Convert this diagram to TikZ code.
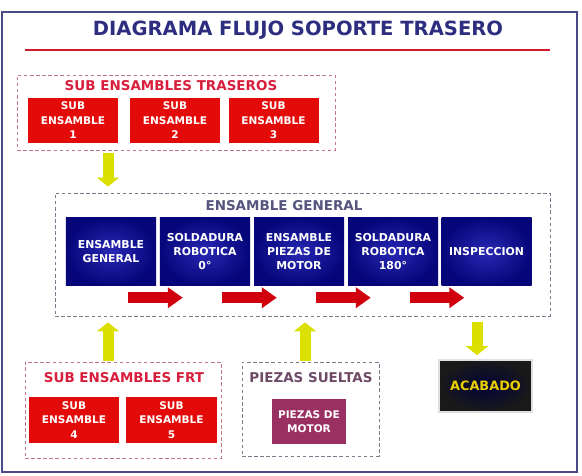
\documentclass[tikz,border=0pt]{standalone}
\usepackage{fontspec}
\setmainfont{DejaVu Sans}
\usetikzlibrary{arrows.meta,positioning,calc}
\definecolor{Frame}{HTML}{4A4A86}
\definecolor{TitleInk}{HTML}{2E2E80}
\definecolor{Rule}{HTML}{D41A2E}
\definecolor{SubRed}{HTML}{E30A0A}
\definecolor{LabelRed}{HTML}{D81E3C}
\definecolor{NavyIn}{HTML}{2828B4}
\definecolor{NavyOut}{HTML}{06067A}
\definecolor{GenInk}{HTML}{555580}
\definecolor{PartInk}{HTML}{6E4A66}
\definecolor{Motor}{HTML}{9A2F62}
\definecolor{Gold}{HTML}{EAD000}
\definecolor{ArrowRed}{HTML}{D0000E}
\definecolor{ArrowYel}{HTML}{DCE000}
\definecolor{DashRed}{HTML}{C07888}
\definecolor{DashGray}{HTML}{7A7A8C}
\tikzset{
  subbox/.style={fill=SubRed,minimum width=2.7cm,minimum height=1.35cm,inner sep=1pt,align=center,font=\fontsize{9}{12.4}\selectfont\bfseries,text=white},
  stagebox/.style={shade,inner color=NavyIn,outer color=NavyOut,minimum width=2.7cm,minimum height=2.04cm,inner sep=1pt,align=center,font=\fontsize{9.3}{12.2}\selectfont\bfseries,text=white},
  groupbox/.style={dash pattern=on 3pt off 2.2pt,line width=0.7pt},
  grouplabel/.style={font=\fontsize{11.5}{13}\selectfont\bfseries},
  flowarrow/.style={-{Triangle[width=0.6cm,length=0.45cm]},line width=0.33cm,draw=ArrowRed},
  feedarrow/.style={-{Triangle[width=0.66cm,length=0.27cm]},line width=0.33cm,draw=ArrowYel}
}
\begin{document}
\begin{tikzpicture}[x=0.03cm,y=-0.03cm]
  \useasboundingbox (0,0) rectangle (582,476);
  \draw[Frame,line width=2.4pt,fill=white] (2,12) rectangle (577,472);
  \node[font=\fontsize{16.7}{18}\selectfont\bfseries,text=TitleInk] (title) at (298,30) {DIAGRAMA FLUJO SOPORTE TRASERO};
  \draw[Rule,line width=2.4pt] (25,50) -- (550,50);

  % sub ensambles traseros
  \node[groupbox,draw=DashRed,minimum width=9.54cm,minimum height=2.25cm] (trasero) at (176,112.5) {};
  \node[grouplabel,text=LabelRed] (traslbl) at (171,86) {SUB ENSAMBLES TRASEROS};
  \node[subbox] (sub1) at (73,120.5) {SUB\\ENSAMBLE\\1};
  \node[subbox] (sub2) at (175,120.5) {SUB\\ENSAMBLE\\2};
  \node[subbox] (sub3) at (273.5,120.5) {SUB\\ENSAMBLE\\3};

  % ensamble general
  \node[groupbox,draw=DashGray,minimum width=14.85cm,minimum height=3.69cm] (general) at (302.5,254.5) {};
  \node[grouplabel,text=GenInk] (genlbl) at (284,206) {ENSAMBLE GENERAL};
  \node[stagebox] (st1) at (111,251.5) {ENSAMBLE\\GENERAL};
  \node[stagebox] (st2) at (205,251.5) {SOLDADURA\\ROBOTICA\\0°};
  \node[stagebox] (st3) at (299,251.5) {ENSAMBLE\\PIEZAS DE\\MOTOR};
  \node[stagebox] (st4) at (393,251.5) {SOLDADURA\\ROBOTICA\\180°};
  \node[stagebox] (st5) at (486.5,251.5) {INSPECCION};
  \foreach \a/\b in {st1/st2,st2/st3,st3/st4,st4/st5}
    \draw[flowarrow] ([shift={(-28,12)}]\a.south east) -- ([shift={(23,12)}]\b.south west);

  % sub ensambles frt
  \node[groupbox,draw=DashRed,minimum width=5.88cm,minimum height=2.88cm] (frt) at (123,410) {};
  \node[grouplabel,text=LabelRed] (frtlbl) at (124,378) {SUB ENSAMBLES FRT};
  \node[subbox,minimum height=1.38cm] (sub4) at (74,420) {SUB\\ENSAMBLE\\4};
  \node[subbox,minimum height=1.38cm] (sub5) at (171.5,420) {SUB\\ENSAMBLE\\5};

  % piezas sueltas
  \node[groupbox,draw=DashGray,minimum width=4.11cm,minimum height=2.82cm] (piezas) at (310.5,409) {};
  \node[grouplabel,text=PartInk] (pzlbl) at (311,378) {PIEZAS SUELTAS};
  \node[fill=Motor,minimum width=2.22cm,minimum height=1.35cm,inner sep=1pt,align=center,font=\fontsize{9}{12}\selectfont\bfseries,text=white] (motor) at (309,421.5) {PIEZAS DE\\MOTOR};

  \node[shade,inner color=NavyOut!45!black,outer color=black!90,draw=black!12,line width=1.5pt,minimum width=2.79cm,minimum height=1.56cm,font=\fontsize{11}{12}\selectfont\bfseries,text=Gold] (acabado) at (485.5,386) {ACABADO};

  \draw[feedarrow] ($(trasero.south)+(-68,3)$) -- ($(trasero.south |- general.north)+(-68,-6)$);
  \draw[feedarrow] ($(frt.north)+(-15,-1)$) -- ($(frt.north |- general.south)+(-15,6)$);
  \draw[feedarrow] ($(piezas.north)+(-5.5,-1)$) -- ($(piezas.north |- general.south)+(-5.5,6)$);
  \draw[feedarrow] ($(acabado.north |- general.south)+(-8.5,6)$) -- ($(acabado.north)+(-8.5,-4)$);
\end{tikzpicture}
\end{document}
